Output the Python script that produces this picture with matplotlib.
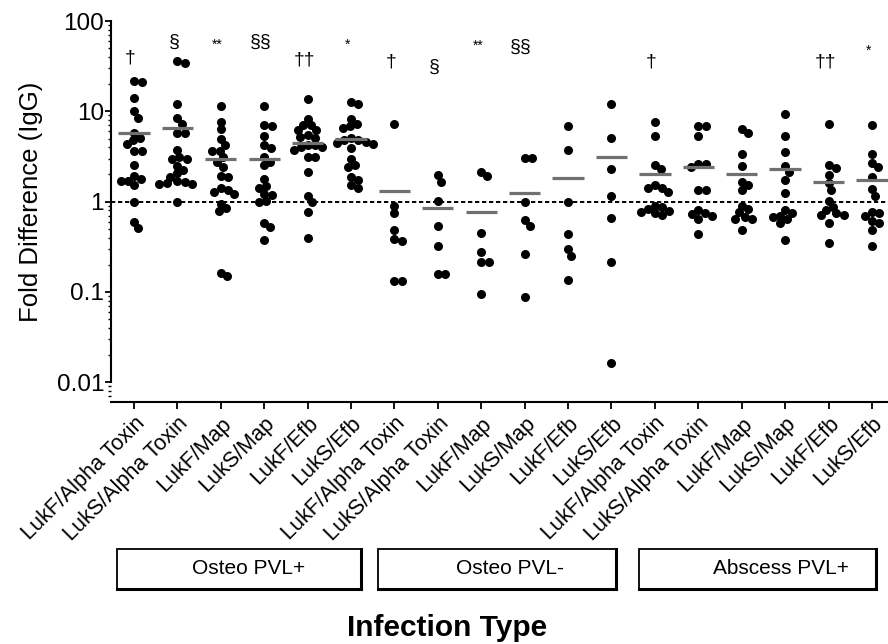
import numpy as np
import matplotlib.pyplot as plt
from matplotlib.patches import Rectangle
from matplotlib.ticker import LogLocator, NullFormatter, FixedLocator

plt.rcParams['font.family'] = ['Liberation Sans', 'DejaVu Sans']

# --- data (fold difference) ---
antigens = ['LukF/Alpha Toxin', 'LukS/Alpha Toxin', 'LukF/Map', 'LukS/Map', 'LukF/Efb', 'LukS/Efb']
groups = ['Osteo PVL+', 'Osteo PVL-', 'Abscess PVL+']

osteo_pos = [
    [21, 21.5, 13.9, 10, 8.5, 5.8, 5.1, 4.8, 4.3, 3.65, 3.65, 2.54, 1.91, 1.76, 1.7, 1.7, 1.52, 1.0, 0.6, 0.51],
    [36, 34.7, 12.2, 8.5, 7.3, 5.8, 5.8, 3.7, 3.1, 3.0, 3.0, 2.5, 2.24, 2.05, 1.88, 1.7, 1.66, 1.6, 1.55, 1.55, 1.0],
    [11.4, 7.6, 6.3, 4.9, 4.2, 3.65, 3.65, 3.1, 2.76, 2.43, 1.93, 1.88, 1.4, 1.36, 1.29, 1.21, 0.95, 0.84, 0.79, 0.163, 0.15],
    [11.4, 7.0, 6.8, 5.35, 4.2, 3.9, 3.1, 2.76, 2.54, 1.78, 1.49, 1.4, 1.22, 1.18, 1.02, 1.0, 0.58, 0.52, 0.38],
    [13.6, 8.3, 7.0, 7.0, 6.2, 6.2, 5.4, 5.2, 5.1, 4.2, 4.0, 4.2, 4.0, 3.7, 3.1, 3.1, 2.14, 1.16, 1.0, 0.76, 0.4],
    [12.7, 12, 8.2, 7.3, 6.8, 6.5, 5.1, 4.8, 4.8, 4.6, 4.5, 4.4, 3.9, 3.0, 2.54, 2.43, 1.88, 1.73, 1.52, 1.4],
]
osteo_neg = [
    [7.2, 0.9, 0.74, 0.49, 0.385, 0.37, 0.134, 0.131],
    [1.96, 1.66, 1.02, 0.54, 0.32, 0.157, 0.157],
    [2.14, 1.91, 0.45, 0.274, 0.216, 0.216, 0.096],
    [3.05, 3.05, 1.0, 0.62, 0.54, 0.263, 0.0885],
    [6.8, 3.7, 1.0, 0.44, 0.296, 0.25, 0.135],
    [12.2, 5.1, 2.29, 1.16, 0.66, 0.216, 0.0165],
]
abscess_pos = [
    [7.7, 5.35, 2.52, 2.27, 1.51, 1.42, 1.42, 1.29, 0.9, 0.87, 0.82, 0.79, 0.76, 0.74, 0.71],
    [6.8, 6.8, 5.35, 2.58, 2.58, 2.43, 1.36, 1.36, 0.8, 0.74, 0.73, 0.7, 0.65, 0.44],
    [6.3, 5.8, 3.4, 2.49, 1.66, 1.52, 1.36, 0.9, 0.83, 0.76, 0.68, 0.65, 0.65, 0.49],
    [9.3, 5.35, 3.55, 2.49, 2.13, 1.73, 1.26, 0.8, 0.75, 0.7, 0.68, 0.64, 0.58, 0.38],
    [7.3, 2.54, 2.35, 1.97, 1.62, 1.36, 1.02, 0.87, 0.8, 0.74, 0.71, 0.71, 0.58, 0.35],
    [7.1, 3.35, 2.69, 2.43, 1.88, 1.37, 1.16, 0.77, 0.74, 0.7, 0.61, 0.58, 0.48, 0.32],
]
# group means (grey bars)
means = [5.7, 6.6, 3.0, 3.0, 4.5, 4.9,
         1.31, 0.85, 0.76, 1.25, 1.83, 3.1,
         2.0, 2.45, 2.0, 2.3, 1.66, 1.73]

# significance marks: column, symbol, height
sig_cols = [0, 1, 2, 3, 4, 5, 6, 7, 8, 9, 12, 16, 17]
sig_text = ['†', '§', '**', '§§', '††', '*', '†', '§', '**', '§§', '†', '††', '*']
sig_y = [38.6, 58, 55, 58, 37, 55, 35, 31, 53, 51, 35, 35, 47]

columns = osteo_pos + osteo_neg + abscess_pos
labels = antigens * 3

W, H = 888, 644
fig = plt.figure(figsize=(W / 100, H / 100), dpi=100)
ax = fig.add_axes([111 / W, 1 - 402 / H, 777 / W, 381 / H])
ax.set_yscale('log')
ax.set_ylim(10 ** -2.218, 100)
ax.set_xlim(-0.53, 17.37)

# simple beeswarm in pixel space
px_per_x = ax.transData.transform((1, 1))[0] - ax.transData.transform((0, 1))[0]
diam = 9.0


def swarm(vals, xc):
    ys = ax.transData.transform(np.column_stack([np.full(len(vals), xc), vals]))[:, 1]
    offs = np.zeros(len(vals))
    placed = []
    step = 0.5
    for i in np.argsort(-ys):
        y = ys[i]
        s_found = 0.0
        for k in range(400):
            cands = [0.0] if k == 0 else [k * step, -k * step]
            ok = None
            for s in cands:
                if all((s - ox) ** 2 + (y - oy) ** 2 >= (0.8 * diam) ** 2 for ox, oy in placed):
                    ok = s
                    break
            if ok is not None:
                s_found = ok
                break
        placed.append((s_found, y))
        offs[i] = s_found / px_per_x
    return offs


for i, vals in enumerate(columns):
    vals = np.array(vals, dtype=float)
    xs = i + swarm(vals, i)
    ax.plot(xs, vals, 'o', color='black', ms=6.5, mew=0, zorder=2)
    ax.plot([i - 0.36, i + 0.36], [means[i], means[i]], color='#707070', lw=2.3,
            solid_capstyle='butt', zorder=3)

ax.axhline(1, color='black', lw=1.4, ls=(0, (2.2, 1.4)), zorder=1)

for c, t, y in zip(sig_cols, sig_text, sig_y):
    fs = 10 if '*' in t else 14
    ax.text(c - 0.08, y, t, ha='center', va='center', fontsize=fs)

# axes styling
for s in ['top', 'right']:
    ax.spines[s].set_visible(False)
ax.spines['left'].set_bounds(0.01, 100)
ax.spines['left'].set_linewidth(1.5)
ax.spines['bottom'].set_linewidth(1.5)

ax.yaxis.set_major_locator(FixedLocator([0.01, 0.1, 1, 10, 100]))
ax.set_yticklabels(['0.01', '0.1', '1', '10', '100'])
ax.yaxis.set_minor_locator(LogLocator(base=10, subs=np.arange(2, 10)))
ax.yaxis.set_minor_formatter(NullFormatter())
ax.tick_params(axis='y', which='major', length=4.5, width=1.3, labelsize=17.5, pad=0.5)
ax.tick_params(axis='y', which='minor', length=2.5, width=1.0)

ax.set_xticks(range(len(labels)))
ax.set_xticklabels(labels, rotation=45, ha='right', va='top', rotation_mode='anchor', fontsize=15.5)
ax.tick_params(axis='x', length=5, width=1.3, pad=3)

ax.set_ylabel('Fold Difference (IgG)', fontsize=18.5)
ax.yaxis.set_label_coords(-0.088, 0.526)

# group boxes under the tick labels
box_x = [(117, 361), (378, 616), (639, 876)]
text_x = [249, 510, 781]
for (x0, x1), tx, g in zip(box_x, text_x, groups):
    fig.add_artist(Rectangle((x0 / W, 1 - 589 / H), (x1 - x0) / W, 40 / H,
                             transform=fig.transFigure, fill=False, lw=1.3, color='black'))
    fig.add_artist(plt.Line2D([x0 / W, x1 / W], [1 - 589 / H, 1 - 589 / H],
                              transform=fig.transFigure, color='black', lw=2.2))
    fig.add_artist(plt.Line2D([x1 / W, x1 / W], [1 - 589 / H, 1 - 549 / H],
                              transform=fig.transFigure, color='black', lw=2.2))
    fig.text(tx / W, 1 - 569 / H, g, ha='center', va='center', fontsize=15)

fig.text(447 / W, 1 - 628 / H, 'Infection Type', ha='center', va='center',
         fontsize=21.5, fontweight='bold')

fig.savefig('out.png', dpi=100)
